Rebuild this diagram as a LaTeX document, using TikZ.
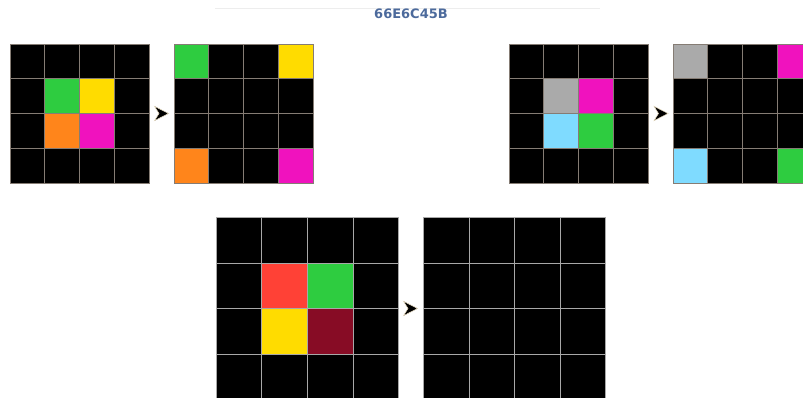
\documentclass[tikz,border=0pt]{standalone}
\usepackage{fontspec}
\setmainfont{DejaVu Sans}
\definecolor{arcK}{HTML}{000000}
\definecolor{arcG}{HTML}{2ECC40}
\definecolor{arcY}{HTML}{FFDC00}
\definecolor{arcO}{HTML}{FF851B}
\definecolor{arcM}{HTML}{F012BE}
\definecolor{arcA}{HTML}{AAAAAA}
\definecolor{arcB}{HTML}{7FDBFF}
\definecolor{arcR}{HTML}{FF4136}
\definecolor{arcW}{HTML}{870C25}
\definecolor{gridA}{HTML}{857C74}
\definecolor{gridB}{HTML}{A8A8A8}
\definecolor{titleC}{HTML}{4C6A9C}
\definecolor{tipedge}{HTML}{E8DCC0}
\tikzset{
  cellbox/.style={draw=gridA, line width=0.9pt},
  cellboxb/.style={draw=gridB, line width=0.9pt},
  tipshape/.style={fill=black, draw=tipedge, line width=0.5pt, line join=miter},
  titletext/.style={font=\bfseries\fontsize{13}{15}\selectfont, text=titleC}
}
% #1 x, #2 y, #3 cell size, #4 style, #5 list of col/row/colour
\newcommand\arcgridx[5]{%
  \foreach \ci in {0,1,2,3}{\foreach \ri in {0,1,2,3}{%
    \path[#4, fill=arcK] ({#1+\ci*#3},{#2+\ri*#3}) rectangle ++(#3,#3);}}%
  \foreach \ci/\ri/\cc in {#5}{%
    \path[#4, fill=\cc] ({#1+\ci*#3},{#2+\ri*#3}) rectangle ++(#3,#3);}%
}
\newcommand\arctipx[2]{%
  \path[tipshape] (#1,#2) -- ++(-14,-7.2) -- ++(4.5,7.2) -- ++(-4.5,7.2) -- cycle;}
\begin{document}
\begin{tikzpicture}[x=1pt,y=-1pt]
\useasboundingbox (0,0) rectangle (803,398);
\clip (0,0) rectangle (803,398);
\draw[line width=0.6pt, draw=black!7] (215,8) -- (600,8);
\node[titletext] (title) at (411,14) {66E6C45B};
% pair 1
\arcgridx{10}{44}{34.75}{cellbox}{1/1/arcG,2/1/arcY,1/2/arcO,2/2/arcM}
\arctipx{168.5}{113.5}
\arcgridx{174}{44}{34.75}{cellbox}{0/0/arcG,3/0/arcY,0/3/arcO,3/3/arcM}
% pair 2
\arcgridx{509}{44}{34.75}{cellbox}{1/1/arcA,2/1/arcM,1/2/arcB,2/2/arcG}
\arctipx{668}{113.5}
\arcgridx{673}{44}{34.75}{cellbox}{0/0/arcA,3/0/arcM,0/3/arcB,3/3/arcG}
% pair 3
\arcgridx{216}{217.3}{45.65}{cellboxb}{1/1/arcR,2/1/arcG,1/2/arcY,2/2/arcW}
\arctipx{417.5}{308.5}
\arcgridx{423.3}{217.3}{45.65}{cellboxb}{}
\end{tikzpicture}
\end{document}
